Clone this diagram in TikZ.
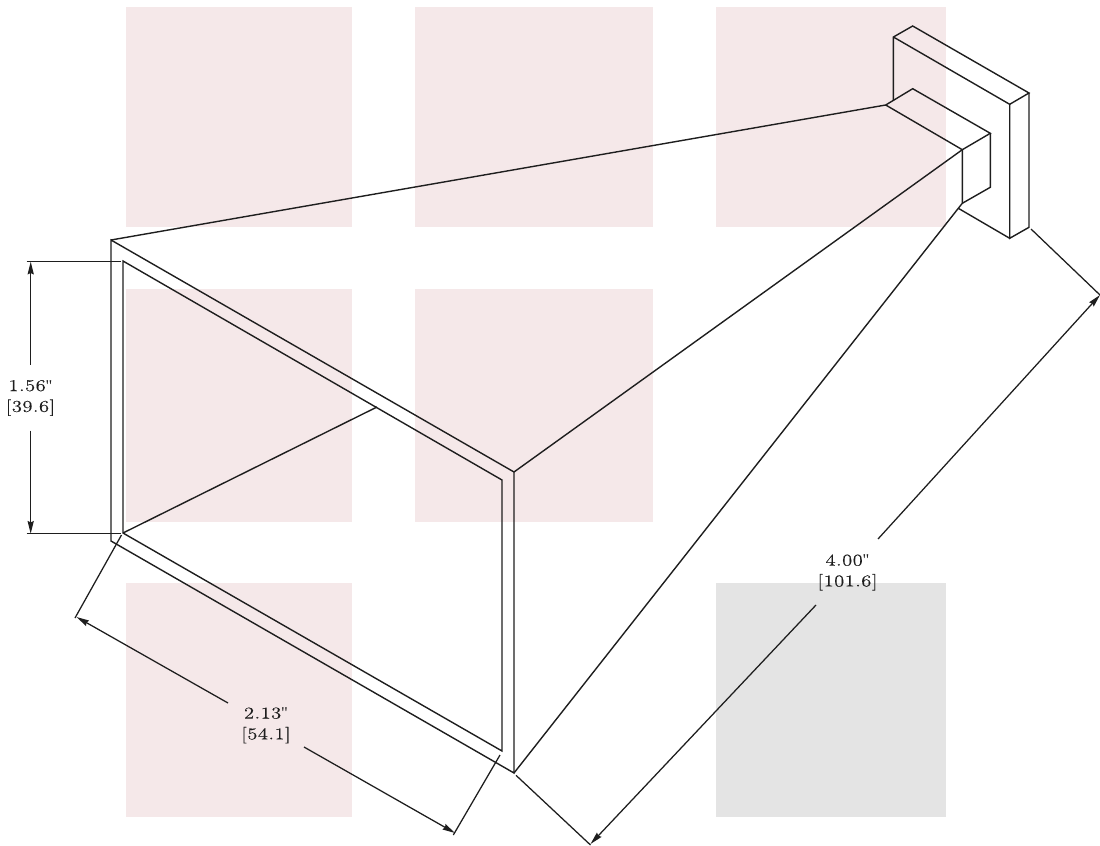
\documentclass[tikz,border=0pt]{standalone}
\usepackage{fontspec}
\setmainfont{Latin Modern Roman}[LetterSpace=3.0,FakeStretch=1.24,FakeBold=0.25]
\newfontfamily\quotefont{Liberation Serif}
\usetikzlibrary{arrows.meta}
\definecolor{pinkbg}{HTML}{F5E8E9}
\definecolor{graybg}{HTML}{E4E4E4}
\definecolor{inkc}{HTML}{1E1E1E}
\newcommand{\inchmark}{{\quotefont\char"22}}
\tikzset{
  panel/.style={fill=pinkbg,draw=none},
  graypanel/.style={fill=graybg,draw=none},
  edge/.style={draw=inkc,line width=1.05pt,line join=miter},
  dimline/.style={draw=inkc,line width=0.95pt},
  dimarrow/.style={dimline,-{Stealth[length=9.5pt,width=4.6pt,inset=1pt]}},
  dimtext/.style={font=\fontsize{12.4pt}{15.6pt}\selectfont,align=center,inner sep=0pt,text=inkc},
}
\begin{document}
\begin{tikzpicture}[x=0.75pt,y=-0.75pt]
\useasboundingbox (0,0) rectangle (1100,846);
% background panels
\fill[panel] (126,7) rectangle (352,227);
\fill[panel] (415,7) rectangle (653,227);
\fill[panel] (716,7) rectangle (946,227);
\fill[panel] (126,289) rectangle (352,522);
\fill[panel] (415,289) rectangle (653,522);
\fill[panel] (126,583) rectangle (352,817);
\fill[graypanel] (716,583) rectangle (946,817);
% horn mouth
\coordinate (a) at (111,240); \coordinate (b) at (514,472);
\coordinate (c) at (514,773); \coordinate (d) at (111,541);
\coordinate (e) at (123,261); \coordinate (f) at (502,480);
\coordinate (g) at (502,751); \coordinate (h) at (123,533);
\draw[edge] (a) -- (b) -- (c) -- (d) -- cycle;
\draw[edge] (e) -- (f) -- (g) -- (h) -- cycle;
\coordinate (i) at (377,407);
\draw[edge] (h) -- (i);
% waveguide section
\coordinate (p) at (885.7,105); \coordinate (q) at (912.7,88.7);
\coordinate (r) at (990.3,133.3); \coordinate (s) at (962.3,149.7);
\coordinate (t) at (990.3,187.3); \coordinate (u) at (962.3,203.3);
\coordinate (v) at (958.3,208.3);
\draw[edge] (a) -- (p) -- (s) -- (b);
\draw[edge] (c) -- (v) -- (u) -- (s);
\draw[edge] (p) -- (q) -- (r) -- (s);
\draw[edge] (r) -- (t) -- (u);
% flange
\coordinate (fa) at (893.4,37); \coordinate (fb) at (912.7,26);
\coordinate (fc) at (1029,93); \coordinate (fd) at (1009.7,104.3);
\coordinate (fe) at (1009.7,238.3); \coordinate (ff) at (1029,227.3);
\coordinate (fg) at (893.4,100);
\draw[edge] (fg) -- (fa) -- (fb) -- (fc) -- (fd) -- (fa);
\draw[edge] (fd) -- (fe) -- (ff) -- (fc);
\draw[edge] (v) -- (fe);
% dimension 1.56
\node[dimtext] (h156) at (30.5,398) {1.56\inchmark\\{}[39.6]};
\coordinate (x1) at (26.7,261.7); \coordinate (x2) at (120.7,261.7);
\coordinate (x3) at (26.7,533.7); \coordinate (x4) at (120.7,533.7);
\coordinate (a1) at (30.7,261.7); \coordinate (a2) at (30.7,533.7);
\coordinate (g1) at (30.7,364.7); \coordinate (g2) at (30.7,430.7);
\draw[dimline] (x1) -- (x2);
\draw[dimline] (x3) -- (x4);
\draw[dimarrow] (g1) -- (a1);
\draw[dimarrow] (g2) -- (a2);
% dimension 2.13
\node[dimtext] (h213) at (266,725.5) {2.13\inchmark\\{}[54.1]};
\coordinate (b1) at (121.5,535); \coordinate (b2) at (75,618);
\coordinate (b3) at (453.3,835); \coordinate (b4) at (500,755);
\coordinate (c1) at (76.5,617); \coordinate (c2) at (228,703);
\coordinate (c3) at (304,747); \coordinate (c4) at (455,833);
\draw[dimline] (b1) -- (b2);
\draw[dimline] (b3) -- (b4);
\draw[dimarrow] (c2) -- (c1);
\draw[dimarrow] (c3) -- (c4);
% dimension 4.00
\node[dimtext] (h400) at (847.5,572.5) {4.00\inchmark\\{}[101.6]};
\coordinate (d1) at (516,775.3); \coordinate (d2) at (590.5,845);
\coordinate (d3) at (1031,229); \coordinate (d4) at (1100,295);
\coordinate (e1) at (590.5,844); \coordinate (e2) at (816,605);
\coordinate (e3) at (878,539); \coordinate (e4) at (1100,295);
\draw[dimline] (d1) -- (d2);
\draw[dimline] (d3) -- (d4);
\draw[dimarrow] (e2) -- (e1);
\draw[dimarrow] (e3) -- (e4);
\end{tikzpicture}
\end{document}
